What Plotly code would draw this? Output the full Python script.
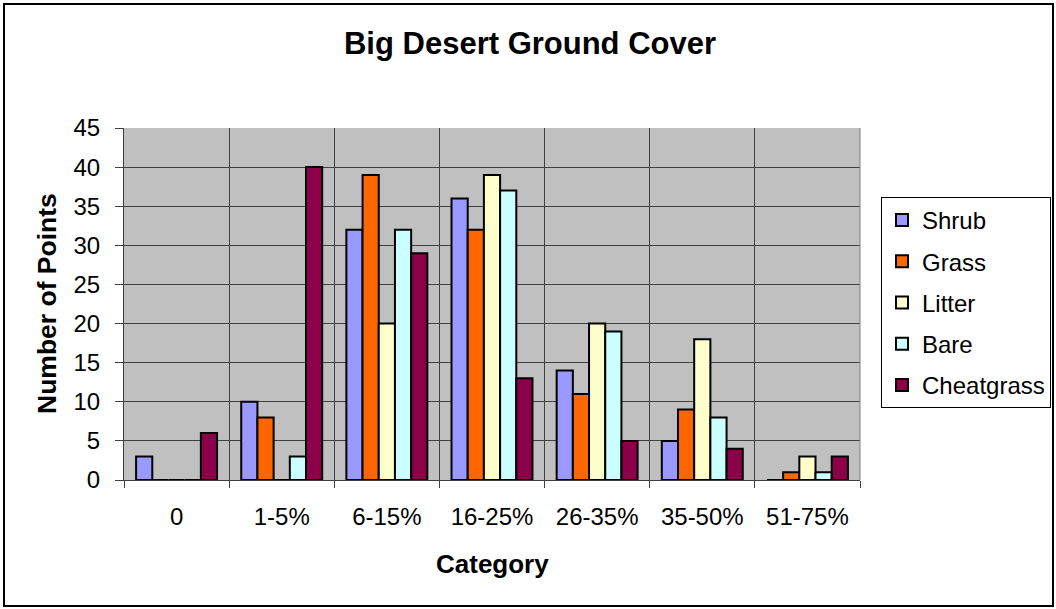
import plotly.graph_objects as go

categories = ["0", "1-5%", "6-15%", "16-25%", "26-35%", "35-50%", "51-75%"]
shrub = [3, 10, 32, 36, 14, 5, 0]
grass = [0, 8, 39, 32, 11, 9, 1]
litter = [0, 0, 20, 39, 20, 18, 3]
bare = [0, 3, 32, 37, 19, 8, 1]
cheatgrass = [6, 40, 29, 13, 5, 4, 3]

series = [
    ("Shrub", shrub, "#9999FF"),
    ("Grass", grass, "#FF6600"),
    ("Litter", litter, "#FFFFCC"),
    ("Bare", bare, "#CCFFFF"),
    ("Cheatgrass", cheatgrass, "#8B0049"),
]

W, H = 1056, 609
L, R, T, B = 124, 196, 128, 129
pw = W - L - R
ph = H - T - B

def px_x(x):
    return (x - L) / pw

def px_y(y):
    return (H - B - y) / ph

fig = go.Figure()
for name, vals, col in series:
    fig.add_trace(go.Bar(
        x=categories, y=vals, name=name, legendgroup=name,
        marker=dict(color=col, line=dict(color="black", width=2)),
    ))

font = "Liberation Sans, Arial, sans-serif"

fig.update_layout(
    width=W, height=H,
    margin=dict(l=L, r=R, t=T, b=B),
    paper_bgcolor="white",
    plot_bgcolor="#C0C0C0",
    barmode="group",
    bargap=0.23,
    bargroupgap=0,
    font=dict(family=font, color="black", size=24),
    title=dict(text="<b>Big Desert Ground Cover</b>", x=530 / W, xref="container",
               xanchor="center", y=1 - 43 / H, yref="container", yanchor="middle",
               font=dict(size=31, family=font, color="black")),
    legend=dict(
        xref="container", yref="container",
        x=881 / W, y=1 - 197 / H, xanchor="left", yanchor="top",
        bordercolor="black", borderwidth=1, bgcolor="white",
        font=dict(size=24, family=font, color="black"),
        traceorder="grouped", tracegroupgap=7,
    ),
    xaxis=dict(
        type="category", tickson="boundaries", showgrid=True,
        gridcolor="#404040", gridwidth=1,
        ticks="outside", ticklen=7, tickcolor="#404040",
        showline=True, linecolor="#404040", linewidth=1,
        ticklabelstandoff=15,
        tickfont=dict(size=24),
    ),
    yaxis=dict(
        range=[0, 45], dtick=5, showgrid=True,
        gridcolor="#404040", gridwidth=1,
        ticks="outside", ticklen=8, tickcolor="#404040",
        showline=True, linecolor="#404040", linewidth=1,
        ticklabelstandoff=10,
        tickfont=dict(size=24),
        zeroline=False,
    ),
    annotations=[
        dict(text="<b>Number of Points</b>", xref="paper", yref="paper",
             x=px_x(47), y=0.5, textangle=-90, showarrow=False,
             xanchor="center", yanchor="middle",
             font=dict(size=26.5, family=font, color="black")),
        dict(text="<b>Category</b>", xref="paper", yref="paper",
             x=0.5, y=px_y(564), showarrow=False,
             xanchor="center", yanchor="middle",
             font=dict(size=26, family=font, color="black")),
    ],
    shapes=[
        dict(type="rect", xref="paper", yref="paper",
             x0=px_x(4), x1=px_x(1053), y0=px_y(606), y1=px_y(4),
             line=dict(color="black", width=2), layer="below"),
        dict(type="line", xref="paper", yref="paper",
             x0=1, x1=1, y0=0, y1=1,
             line=dict(color="#808080", width=1)),
    ],
    showlegend=True,
)

fig.write_html("out.html")
